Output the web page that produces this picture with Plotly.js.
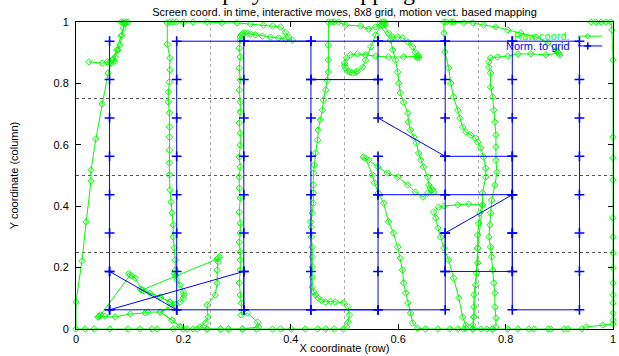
<!DOCTYPE html>
<html>
<head>
<meta charset="utf-8">
<script src="https://cdn.plot.ly/plotly-3.0.1.min.js"></script>
<style>html,body{margin:0;padding:0;background:#fff;}#chart{width:619px;height:356px;}</style>
</head>
<body>
<div id="chart"></div>
<script>
// ---- Raw cursor coordinates (green), read stroke by stroke from the picture ----
const rawStroke1 = [[0.024,0.870],[0.049,0.866],[0.058,0.870],[0.063,0.870],[0.067,0.876],[0.069,0.879],[0.071,0.872],[0.073,0.886],[0.078,0.909],[0.082,0.925],[0.086,0.958],[0.088,0.980],[0.090,0.997],[0.084,1.0],[0.088,1.0],[0.093,1.0],[0.097,1.0],[0.091,0.993],[0.084,0.954],[0.076,0.909],[0.069,0.876],[0.065,0.866],[0.060,0.834],[0.049,0.733],[0.037,0.619],[0.028,0.518],[0.028,0.482],[0.019,0.349],[0.011,0.221],[0.000,0.088],[0.000,0.000]];
const rawStroke2 = [[0.017,0],[0.034,0],[0.063,0],[0.097,0],[0.119,0],[0.142,0],[0.151,0],[0.181,0],[0.194,0.007],[0.179,0.029],[0.157,0.055],[0.134,0.055],[0.129,0.052],[0.101,0.049],[0.073,0.039],[0.054,0.042],[0.043,0.042],[0.046,0.046],[0.041,0.039],[0.044,0.042],[0.101,0.176],[0.098,0.180],[0.104,0.173],[0.110,0.166],[0.123,0.127],[0.120,0.130],[0.127,0.124],[0.138,0.117],[0.157,0.104],[0.175,0.088],[0.194,0.088],[0.200,0.101],[0.201,0.111],[0.200,0.121],[0.194,0.143],[0.188,0.160],[0.185,0.173],[0.183,0.180],[0.186,0.176],[0.185,0.192],[0.185,0.225],[0.183,0.264],[0.181,0.300],[0.181,0.339],[0.179,0.378],[0.177,0.414],[0.175,0.453],[0.174,0.502],[0.174,0.541],[0.174,0.583],[0.174,0.625],[0.174,0.658],[0.174,0.704],[0.172,0.739],[0.172,0.772],[0.174,0.805],[0.175,0.844],[0.175,0.883],[0.170,0.928],[0.170,0.997]];
const rawStroke3 = [[0.175,1],[0.181,1],[0.187,1],[0.200,1],[0.218,1],[0.244,1],[0.272,0.997],[0.300,0.997],[0.325,0.993],[0.349,0.990],[0.366,0.987],[0.381,0.984],[0.390,0.967],[0.396,0.951],[0.403,0.941],[0.390,0.944],[0.377,0.948],[0.362,0.951],[0.347,0.954],[0.334,0.958],[0.325,0.961],[0.320,0.963],[0.315,0.964],[0.310,0.962],[0.308,0.958],[0.306,0.951],[0.306,0.941],[0.304,0.915],[0.306,0.886],[0.304,0.850],[0.306,0.811],[0.304,0.779],[0.306,0.739],[0.306,0.707],[0.304,0.671],[0.306,0.638],[0.306,0.599],[0.304,0.560],[0.306,0.528],[0.304,0.495],[0.304,0.459],[0.306,0.427],[0.304,0.381],[0.306,0.345],[0.306,0.313],[0.304,0.283],[0.306,0.251],[0.306,0.225],[0.306,0.192],[0.304,0.150],[0.306,0.111],[0.308,0.085],[0.308,0.046],[0.319,0.052],[0.338,0.023],[0.340,0.007]];
const rawStroke4 = [[0.310,0],[0.284,0],[0.269,0],[0.244,0],[0.231,0.007],[0.241,0.020],[0.246,0.039],[0.244,0.078],[0.259,0.111],[0.263,0.150],[0.263,0.192],[0.265,0.218],[0.265,0.231],[0.267,0.235],[0.263,0.228],[0.123,0.127],[0.157,0.104],[0.175,0.088],[0.185,0.078],[0.175,0.072],[0.157,0.055],[0.179,0.029],[0.194,0.007],[0.200,0]];
const rawStroke5 = [[0.207,0],[0.218,0],[0.226,0],[0.244,0],[0.269,0],[0.284,0],[0.310,0],[0.336,0],[0.366,0],[0.381,0],[0.401,0],[0.427,0],[0.450,0],[0.465,0],[0.481,0],[0.498,0],[0.504,0.007],[0.507,0.023],[0.509,0.046],[0.507,0.072],[0.498,0.085],[0.483,0.088],[0.474,0.090],[0.465,0.088],[0.457,0.094],[0.451,0.101],[0.446,0.111],[0.443,0.121],[0.440,0.137],[0.440,0.169],[0.440,0.202],[0.440,0.235],[0.440,0.267],[0.438,0.300],[0.438,0.332],[0.437,0.349],[0.440,0.378],[0.442,0.410],[0.442,0.443],[0.442,0.469],[0.442,0.508],[0.444,0.534],[0.446,0.573],[0.450,0.616],[0.451,0.648],[0.455,0.681],[0.459,0.713],[0.461,0.746],[0.465,0.779],[0.468,0.811],[0.470,0.837],[0.470,0.876],[0.470,0.925],[0.470,1.0]];
const rawStroke6 = [[0.476,1],[0.481,1],[0.489,1],[0.502,0.990],[0.530,0.987],[0.545,0.977],[0.558,0.984],[0.567,0.997],[0.571,1],[0.575,1],[0.576,0.993],[0.573,0.990],[0.582,0.964],[0.590,0.951],[0.599,0.951],[0.608,0.948],[0.618,0.935],[0.627,0.919],[0.632,0.902],[0.636,0.889],[0.638,0.883],[0.634,0.886],[0.638,0.889],[0.610,0.886],[0.582,0.886],[0.558,0.889],[0.539,0.893],[0.524,0.896],[0.511,0.893],[0.504,0.883],[0.500,0.866],[0.500,0.857],[0.502,0.850],[0.507,0.840],[0.511,0.837],[0.515,0.834],[0.520,0.836],[0.524,0.840],[0.534,0.853],[0.539,0.876],[0.549,0.919],[0.558,0.958],[0.567,0.987],[0.586,0.941],[0.590,0.909],[0.595,0.876],[0.599,0.837],[0.601,0.801],[0.604,0.769],[0.610,0.739],[0.618,0.704],[0.619,0.674],[0.623,0.648],[0.629,0.625],[0.634,0.606],[0.638,0.573],[0.642,0.550],[0.647,0.528],[0.655,0.495],[0.657,0.469],[0.664,0.453],[0.660,0.459],[0.666,0.446],[0.655,0.443],[0.646,0.430],[0.632,0.446],[0.618,0.469],[0.599,0.495],[0.580,0.508],[0.562,0.528],[0.545,0.550],[0.535,0.560],[0.539,0.557],[0.552,0.502],[0.556,0.476],[0.563,0.443],[0.573,0.410],[0.582,0.349],[0.591,0.313],[0.599,0.267],[0.604,0.231],[0.608,0.192],[0.610,0.150],[0.614,0.117],[0.618,0.085],[0.623,0.052],[0.627,0.020],[0.636,0.003]];
const rawStroke7 = [[0.651,0],[0.674,0],[0.696,0],[0.711,0],[0.722,0],[0.726,0.003],[0.726,0.013],[0.720,0.039],[0.713,0.101],[0.703,0.166],[0.694,0.225],[0.685,0.264],[0.679,0.300],[0.674,0.329],[0.670,0.362],[0.666,0.381],[0.675,0.397],[0.685,0.401],[0.711,0.404],[0.731,0.407],[0.757,0.404],[0.752,0.378],[0.750,0.345],[0.748,0.306],[0.748,0.264],[0.748,0.215],[0.746,0.182],[0.744,0.143],[0.741,0.111],[0.741,0.072],[0.741,0.039],[0.739,0.013],[0.739,0],[0.754,0],[0.765,0],[0.776,0],[0.782,0.007]];
const rawStroke8 = [[0.782,0.036],[0.780,0.072],[0.780,0.117],[0.778,0.150],[0.776,0.192],[0.774,0.235],[0.772,0.267],[0.769,0.300],[0.771,0.339],[0.772,0.378],[0.774,0.420],[0.780,0.469],[0.784,0.511],[0.782,0.550],[0.782,0.593],[0.782,0.632],[0.780,0.674],[0.778,0.713],[0.776,0.756],[0.772,0.788],[0.772,0.834],[0.769,0.853],[0.769,0.870],[0.772,0.883],[0.785,0.886],[0.804,0.889],[0.823,0.896],[0.847,0.896],[0.875,0.893],[0.899,0.899],[0.896,0.902],[0.901,0.893],[0.894,0.909],[0.879,0.932],[0.856,0.951],[0.828,0.964],[0.804,0.974],[0.782,0.984],[0.759,0.990],[0.739,0.997],[0.722,0.997],[0.703,1],[0.698,1],[0.690,1],[0.685,1],[0.685,0.964],[0.687,0.902],[0.694,0.850],[0.698,0.801],[0.703,0.756],[0.711,0.713],[0.715,0.687],[0.720,0.658],[0.726,0.642],[0.735,0.632],[0.744,0.622],[0.748,0.609],[0.754,0.590],[0.759,0.560],[0.763,0.524],[0.763,0.495],[0.757,0.443],[0.757,0.404],[0.748,0.264],[0.741,0.039],[0.739,0]];
const rawStroke9 = [[0.776,0],[0.804,0],[0.823,0],[0.843,0],[0.853,0],[0.879,0],[0.884,0],[0.909,0],[0.916,0],[0.942,0],[0.950,0.007],[0.981,0.013],[1.0,0.016],[1.0,0.029],[1.0,0.052],[1.0,0.085],[1.0,0.111],[1.0,0.150],[1.0,0.199],[1.0,0.248],[1.0,0.300],[1.0,0.362],[1.0,0.485],[1.0,0.557],[1.0,0.625],[1.0,0.876],[0.998,0.974],[0.996,1],[0.987,1],[0.978,1],[0.968,1],[0.959,1]];

// ---- Normalised to the 8x8 grid (blue) ----
const gridX = [0.0625,0.0625,0.0625,0.0625,0.0625,0.0625,0.0625,0.0625,0.3125,0.3125,0.1875,0.0625,0.0625,0.1875,0.1875,0.1875,0.1875,0.1875,0.1875,0.1875,0.1875,0.3125,0.3125,0.3125,0.3125,0.3125,0.3125,0.3125,0.3125,0.4375,0.5625,0.4375,0.4375,0.4375,0.4375,0.4375,0.4375,0.4375,0.4375,0.3125,0.4375,0.5625,0.5625,0.4375,0.5625,0.5625,0.6875,0.8125,0.8125,0.8125,0.8125,0.6875,0.5625,0.6875,0.6875,0.6875,0.6875,0.6875,0.6875,0.6875,0.6875,0.5625,0.5625,0.5625,0.5625,0.5625,0.5625,0.6875,0.8125,0.8125,0.8125,0.6875,0.6875,0.8125,0.8125,0.8125,0.8125,0.8125,0.8125,0.9375,0.9375,0.9375,0.9375,0.9375,0.9375,0.9375,0.9375,0.8125];
const gridY = [0.9375,0.8125,0.6875,0.5625,0.4375,0.3125,0.1875,0.0625,0.1875,0.0625,0.0625,0.1875,0.0625,0.0625,0.1875,0.3125,0.4375,0.5625,0.6875,0.8125,0.9375,0.9375,0.8125,0.6875,0.5625,0.4375,0.3125,0.1875,0.0625,0.0625,0.0625,0.0625,0.1875,0.3125,0.4375,0.5625,0.6875,0.8125,0.9375,0.9375,0.9375,0.9375,0.8125,0.8125,0.8125,0.6875,0.5625,0.5625,0.6875,0.8125,0.9375,0.9375,0.9375,0.9375,0.8125,0.6875,0.5625,0.4375,0.3125,0.1875,0.0625,0.0625,0.1875,0.3125,0.4375,0.5625,0.4375,0.4375,0.4375,0.5625,0.4375,0.3125,0.1875,0.1875,0.3125,0.4375,0.3125,0.1875,0.0625,0.0625,0.1875,0.3125,0.4375,0.5625,0.6875,0.8125,0.9375,0.9375];

// ---- Axis ticks and texts ----
const xTickVals = [0, 0.2, 0.4, 0.6, 0.8, 1];
const xTickText = ['0', '0.2', '0.4', '0.6', '0.8', '1'];
const yTickVals = [0, 0.2, 0.4, 0.6, 0.8, 1];
const yTickText = ['0', '0.2', '0.4', '0.6', '0.8', '1'];
const seriesNames = ['Raw coord.', 'Norm. to grid'];
const chartTitle = 'Screen coord. in time, interactive moves, 8x8 grid, motion vect. based mapping';
const topCutTitle = 'Display of the mapping';

const rawPts = [].concat(rawStroke1, rawStroke2, rawStroke3, rawStroke4, rawStroke5, rawStroke6, rawStroke7, rawStroke8, rawStroke9);
const rawX = rawPts.map(p => p[0]);
const rawY = rawPts.map(p => p[1]);

const GREEN = '#00ff00', BLUE = '#0000ff';
const FONT = 'Liberation Sans, Arial, sans-serif';

const traces = [
  {x: rawX, y: rawY, name: seriesNames[0], type: 'scatter', mode: 'lines+markers', cliponaxis: false,
   line: {color: GREEN, width: 1},
   marker: {symbol: 'diamond-open', size: 5, color: GREEN, line: {color: GREEN, width: 1}}},
  {x: gridX, y: gridY, name: seriesNames[1], type: 'scatter', mode: 'lines+markers', cliponaxis: false,
   line: {color: BLUE, width: 1},
   marker: {symbol: 'cross-thin', size: 7, color: BLUE, line: {color: BLUE, width: 1.6}}}
];

// legend drawn gnuplot-style (text, then sample)
const lx0 = 0.935, lx1 = 0.980, lxm = 0.953, ly1 = 0.954, ly2 = 0.922;
const dx = 2.6/537, dy = 2.8/307;
const shapes = [
  {type: 'line', xref: 'paper', yref: 'paper', x0: lx0, x1: lx1, y0: ly1, y1: ly1, line: {color: GREEN, width: 1}},
  {type: 'path', xref: 'paper', yref: 'paper', path: `M ${lxm},${ly1+dy} L ${lxm+dx},${ly1} L ${lxm},${ly1-dy} L ${lxm-dx},${ly1} Z`, line: {color: GREEN, width: 1}},
  {type: 'line', xref: 'paper', yref: 'paper', x0: lx0, x1: lx1, y0: ly2, y1: ly2, line: {color: BLUE, width: 1}},
  {type: 'line', xref: 'paper', yref: 'paper', x0: lxm - 1.3*dx, x1: lxm + 1.3*dx, y0: ly2, y1: ly2, line: {color: BLUE, width: 1.6}},
  {type: 'line', xref: 'paper', yref: 'paper', x0: lxm, x1: lxm, y0: ly2 - 1.3*dy, y1: ly2 + 1.3*dy, line: {color: BLUE, width: 1.6}}
];

const annotations = [
  {xref: 'paper', yref: 'paper', x: 0.9236, y: ly1, xanchor: 'right', yanchor: 'middle', showarrow: false,
   text: seriesNames[0], font: {family: FONT, size: 11, color: GREEN}},
  {xref: 'paper', yref: 'paper', x: 0.9236, y: ly2, xanchor: 'right', yanchor: 'middle', showarrow: false,
   text: seriesNames[1], font: {family: FONT, size: 11, color: BLUE}},
  {xref: 'paper', yref: 'paper', x: 0.42, y: 1.098, xanchor: 'center', yanchor: 'middle', showarrow: false,
   text: topCutTitle, font: {family: 'Liberation Serif, serif', size: 24, color: '#000'}}
];

const axisCommon = {
  range: [0, 1], showline: true, linecolor: '#000', linewidth: 1, mirror: 'ticks',
  ticks: 'inside', ticklen: 5, tickwidth: 1, tickcolor: '#000',
  showgrid: false, zeroline: false, fixedrange: true,
  tickfont: {family: FONT, size: 11, color: '#000'}
};

const layout = {
  width: 619, height: 356,
  margin: {l: 76, r: 6, t: 22, b: 27},
  paper_bgcolor: '#fff', plot_bgcolor: '#fff',
  showlegend: false,
  title: {text: chartTitle, font: {family: FONT, size: 11, color: '#000'}, x: 0.5, xref: 'paper', xanchor: 'center', y: 1 - 12/356, yanchor: 'middle', yref: 'container'},
  xaxis: Object.assign({}, axisCommon, {tickvals: xTickVals, ticktext: xTickText,
    minor: {dtick: 0.25, tick0: 0, showgrid: true, gridcolor: '#aaa', griddash: 'dot', gridwidth: 1, ticks: ''},
    title: {text: 'X coordinate (row)', font: {family: FONT, size: 11, color: '#000'}, standoff: 0}}),
  yaxis: Object.assign({}, axisCommon, {tickvals: yTickVals, ticktext: yTickText, ticklabelstandoff: 4,
    minor: {dtick: 0.25, tick0: 0, showgrid: true, gridcolor: '#555', griddash: 'dot', gridwidth: 1, ticks: ''},
    title: {text: 'Y coordinate (column)', font: {family: FONT, size: 11, color: '#000'}, standoff: 32}}),
  shapes: shapes,
  annotations: annotations
};

Plotly.newPlot('chart', traces, layout, {displayModeBar: false, staticPlot: true});
</script>
</body>
</html>
